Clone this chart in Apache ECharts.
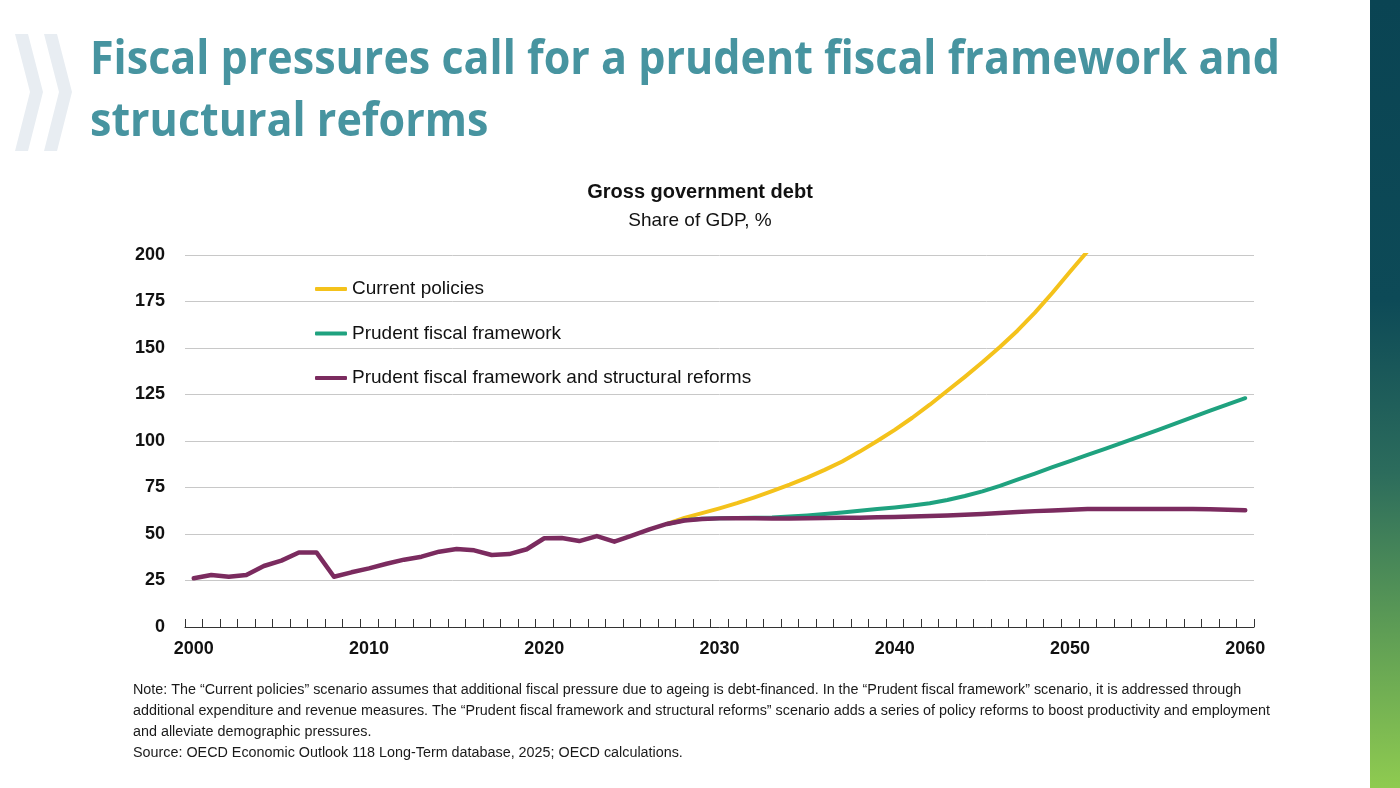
<!DOCTYPE html>
<html>
<head>
<meta charset="utf-8">
<script src="https://cdn.jsdelivr.net/npm/echarts@6/dist/echarts.min.js"></script>
<style>
  html, body { margin: 0; padding: 0; background: #fff; }
  #chart { width: 1400px; height: 788px; }
</style>
</head>
<body>
<div id="chart"></div>
<script>
const years = [
  '2000', '2001', '2002', '2003', '2004', '2005', '2006', '2007', '2008', '2009',
  '2010', '2011', '2012', '2013', '2014', '2015', '2016', '2017', '2018', '2019',
  '2020', '2021', '2022', '2023', '2024', '2025', '2026', '2027', '2028', '2029',
  '2030', '2031', '2032', '2033', '2034', '2035', '2036', '2037', '2038', '2039',
  '2040', '2041', '2042', '2043', '2044', '2045', '2046', '2047', '2048', '2049',
  '2050', '2051', '2052', '2053', '2054', '2055', '2056', '2057', '2058', '2059',
  '2060'
]
const yTicks = [0, 25, 50, 75, 100, 125, 150, 175, 200]

// history 2000-2026 + reforms scenario to 2060
const reforms = [
  26.2, 28.0, 27.0, 28.0, 32.8, 35.7, 40.1, 40.1, 27.0, 29.4,
  31.5, 34.0, 36.2, 37.8, 40.5, 41.9, 41.2, 38.7, 39.2, 41.8,
  47.7, 47.8, 46.2, 48.9, 45.9, 49.1, 52.5, 55.4, 57.3, 58.1,
  58.4, 58.5, 58.5, 58.4, 58.4, 58.5, 58.6, 58.7, 58.8, 59.0,
  59.2, 59.4, 59.7, 60.0, 60.4, 60.8, 61.3, 61.8, 62.3, 62.7,
  63.1, 63.4, 63.5, 63.5, 63.5, 63.5, 63.5, 63.4, 63.3, 63.1,
  62.8
]
// projections start in 2027
const projStart = '2027'
const prudent = [
  55.4, 57.4, 58.2, 58.5, 58.6, 58.7, 58.9, 59.4, 60.0, 60.8,
  61.6, 62.5, 63.4, 64.3, 65.3, 66.5, 68.3, 70.4, 72.9, 75.9,
  79.2, 82.5, 85.9, 89.2, 92.5, 95.8, 99.1, 102.5, 105.9, 109.3,
  112.8, 116.3, 119.7, 123.0
]
const current = [
  55.4, 58.7, 61.2, 63.8, 66.6, 69.7, 73.0, 76.5, 80.3, 84.5,
  89.0, 94.3, 100.0, 106.0, 112.5, 119.5, 127.0, 134.5, 142.3, 150.5,
  159.3, 169.0, 179.7, 191.0, 202.0
]

const names = ['Current policies', 'Prudent fiscal framework', 'Prudent fiscal framework and structural reforms']
const colors = ['#F4C21B', '#1FA27F', '#7B2B5F']

const noteLines = [
  'Note: The \u201cCurrent policies\u201d scenario assumes that additional fiscal pressure due to ageing is debt-financed. In the \u201cPrudent fiscal framework\u201d scenario, it is addressed through',
  'additional expenditure and revenue measures. The \u201cPrudent fiscal framework and structural reforms\u201d scenario adds a series of policy reforms to boost productivity and employment',
  'and alleviate demographic pressures.',
  'Source: OECD Economic Outlook 118 Long-Term database, 2025; OECD calculations.'
]
const headLines = ['Fiscal pressures call for a prudent fiscal framework and', 'structural reforms']

const pad = arr => {
  const lead = years.indexOf(projStart)
  return new Array(lead).fill(null).concat(arr)
}

// text width helper for fitting the slide text
const ctx = document.createElement('canvas').getContext('2d')
const textWidth = (txt, font) => {
  ctx.font = font
  return ctx.measureText(txt).width
}

const headFont = 'bold 46px "Open Sans"'
const headScale = 1190 / textWidth(headLines[0], headFont)
let noteSize = 14
noteSize = noteSize * 1109 / textWidth(noteLines[0], noteSize + 'px "Liberation Sans"')

const chart = echarts.init(document.getElementById('chart'))

const graphics = [
  {
    type: 'polygon',
    shape: { points: [[15, 34], [28, 34], [43, 92], [28, 151], [15, 151], [30, 92]] },
    style: { fill: '#E8EDF2' }
  },
  {
    type: 'polygon',
    shape: { points: [[44, 34], [57, 34], [72, 92], [57, 151], [44, 151], [59, 92]] },
    style: { fill: '#E8EDF2' }
  },
  {
    type: 'rect',
    shape: { x: 1370, y: 0, width: 30, height: 788 },
    style: {
      fill: new echarts.graphic.LinearGradient(0, 0, 0, 1, [
        { offset: 0, color: '#0A4453' },
        { offset: 0.38, color: '#0D4A57' },
        { offset: 0.6, color: '#2C6C5C' },
        { offset: 0.8, color: '#5E9D55' },
        { offset: 1, color: '#8FCB50' }
      ])
    }
  }
]
headLines.forEach((line, i) => {
  graphics.push({
    type: 'text',
    x: 90,
    y: 61 + i * 62,
    scaleX: headScale,
    style: {
      text: line,
      font: headFont,
      fill: '#4794A0',
      textAlign: 'left',
      textVerticalAlign: 'middle'
    }
  })
})
noteLines.forEach((line, i) => {
  graphics.push({
    type: 'text',
    x: 133,
    y: 690 + i * 21,
    style: {
      text: line,
      font: noteSize.toFixed(2) + 'px "Liberation Sans"',
      fill: '#1a1a1a',
      textAlign: 'left',
      textVerticalAlign: 'middle'
    }
  })
})

chart.setOption({
  animation: false,
  textStyle: { fontFamily: 'Liberation Sans' },
  title: {
    text: 'Gross government debt',
    subtext: 'Share of GDP, %',
    left: 'center',
    top: 177,
    itemGap: 9,
    textStyle: { fontSize: 20, fontWeight: 'bold', color: '#111', fontFamily: 'Liberation Sans' },
    subtextStyle: { fontSize: 19, color: '#111', fontFamily: 'Liberation Sans' }
  },
  legend: {
    orient: 'vertical',
    left: 310,
    top: 272,
    itemGap: 20.5,
    itemWidth: 32,
    itemHeight: 4,
    icon: 'roundRect',
    data: names,
    textStyle: { fontSize: 19, color: '#111', lineHeight: 24 }
  },
  grid: { left: 185, right: 146, top: 255, bottom: 161 },
  xAxis: {
    type: 'category',
    data: years,
    boundaryGap: true,
    axisLine: { show: true, lineStyle: { color: '#333', width: 1 } },
    axisTick: { show: true, inside: true, length: 8, interval: 0, lineStyle: { color: '#333', width: 1 } },
    axisLabel: {
      interval: (idx, val) => val % 10 === 0,
      fontSize: 18,
      fontWeight: 'bold',
      color: '#111',
      margin: 13
    },
    splitLine: { show: false }
  },
  yAxis: {
    type: 'value',
    min: yTicks[0],
    max: yTicks[yTicks.length - 1],
    interval: 25,
    axisLine: { show: false },
    axisTick: { show: false },
    axisLabel: { fontSize: 18, fontWeight: 'bold', color: '#111', margin: 20 },
    splitLine: { lineStyle: { color: '#C8C8C8', width: 1 } }
  },
  series: [
    {
      name: names[0],
      type: 'line',
      data: pad(current),
      showSymbol: false,
      clip: true,
      z: 2,
      lineStyle: { color: colors[0], width: 4, cap: 'round', join: 'round' },
      itemStyle: { color: colors[0] }
    },
    {
      name: names[1],
      type: 'line',
      data: pad(prudent),
      showSymbol: false,
      z: 3,
      lineStyle: { color: colors[1], width: 4, cap: 'round', join: 'round' },
      itemStyle: { color: colors[1] }
    },
    {
      name: names[2],
      type: 'line',
      data: reforms,
      showSymbol: false,
      z: 4,
      lineStyle: { color: colors[2], width: 4.5, cap: 'round', join: 'round' },
      itemStyle: { color: colors[2] }
    }
  ],
  graphic: graphics
})
</script>
</body>
</html>
